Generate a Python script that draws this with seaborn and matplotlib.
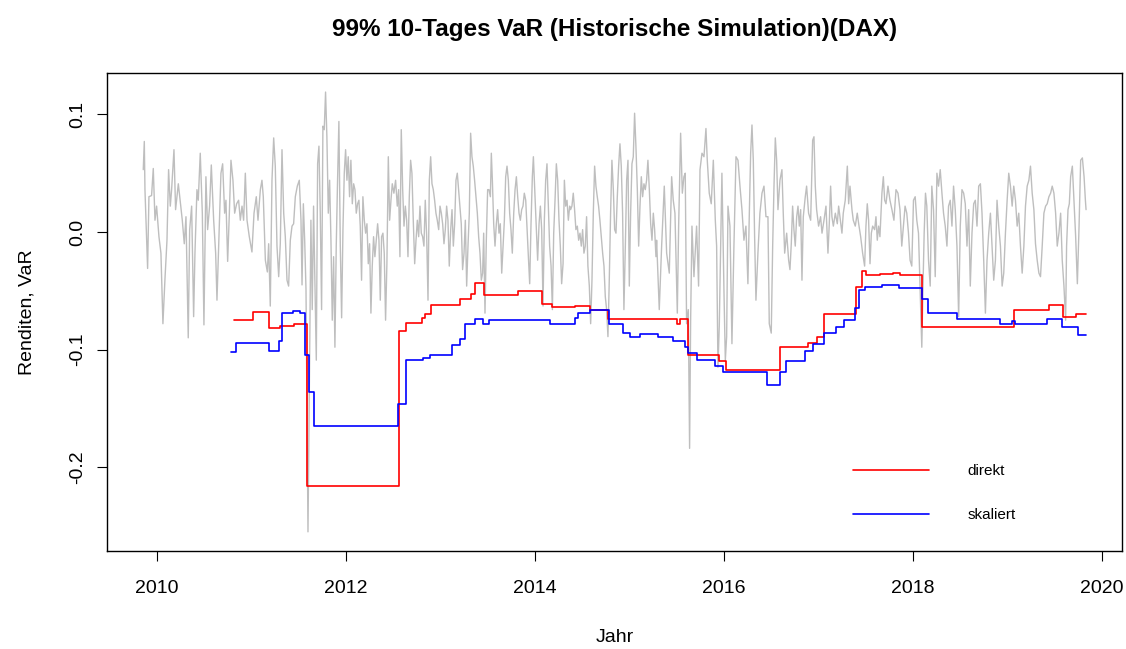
import numpy as np
import pandas as pd
import matplotlib
matplotlib.use("Agg")
import matplotlib.pyplot as plt
import seaborn as sns

# 10-Tages-Renditen (DAX)
ret_years = [
    2009.855, 2009.866, 2009.873, 2009.901, 2009.915, 2009.943, 2009.961, 2009.979, 2009.996, 2010.021,
    2010.042, 2010.063, 2010.084, 2010.106, 2010.123, 2010.141, 2010.155, 2010.180, 2010.197, 2010.226,
    2010.268, 2010.289, 2010.307, 2010.331, 2010.346, 2010.367, 2010.388, 2010.402, 2010.423, 2010.437,
    2010.458, 2010.480, 2010.497, 2010.518, 2010.536, 2010.557, 2010.575, 2010.600, 2010.621, 2010.635,
    2010.656, 2010.677, 2010.695, 2010.716, 2010.730, 2010.748, 2010.766, 2010.783, 2010.804, 2010.822,
    2010.843, 2010.864, 2010.882, 2010.900, 2010.917, 2010.935, 2010.953, 2010.977, 2011.005, 2011.027,
    2011.051, 2011.069, 2011.094, 2011.111, 2011.125, 2011.147, 2011.168, 2011.182, 2011.199, 2011.217,
    2011.235, 2011.252, 2011.270, 2011.288, 2011.305, 2011.323, 2011.341, 2011.358, 2011.376, 2011.393,
    2011.411, 2011.429, 2011.446, 2011.464, 2011.485, 2011.506, 2011.524, 2011.535, 2011.549, 2011.563,
    2011.577, 2011.591, 2011.598, 2011.619, 2011.629, 2011.643, 2011.657, 2011.671, 2011.686, 2011.700,
    2011.714, 2011.728, 2011.742, 2011.756, 2011.770, 2011.784, 2011.798, 2011.813, 2011.827, 2011.841,
    2011.855, 2011.869, 2011.883, 2011.897, 2011.911, 2011.925, 2011.940, 2011.954, 2011.968, 2011.982,
    2011.996, 2012.010, 2012.024, 2012.038, 2012.052, 2012.067, 2012.081, 2012.095, 2012.109, 2012.123,
    2012.137, 2012.151, 2012.165, 2012.179, 2012.194, 2012.208, 2012.222, 2012.236, 2012.250, 2012.264,
    2012.278, 2012.292, 2012.306, 2012.321, 2012.335, 2012.349, 2012.363, 2012.377, 2012.391, 2012.405,
    2012.419, 2012.433, 2012.448, 2012.462, 2012.476, 2012.490, 2012.507, 2012.525, 2012.543, 2012.557,
    2012.571, 2012.585, 2012.600, 2012.614, 2012.628, 2012.642, 2012.656, 2012.670, 2012.684, 2012.698,
    2012.712, 2012.727, 2012.741, 2012.755, 2012.769, 2012.783, 2012.797, 2012.811, 2012.825, 2012.839,
    2012.854, 2012.868, 2012.882, 2012.896, 2012.910, 2012.924, 2012.938, 2012.952, 2012.966, 2012.981,
    2012.995, 2013.009, 2013.023, 2013.037, 2013.051, 2013.065, 2013.079, 2013.093, 2013.108, 2013.122,
    2013.136, 2013.150, 2013.164, 2013.178, 2013.192, 2013.206, 2013.220, 2013.234, 2013.249, 2013.263,
    2013.277, 2013.291, 2013.305, 2013.319, 2013.333, 2013.347, 2013.361, 2013.376, 2013.390, 2013.404,
    2013.418, 2013.432, 2013.446, 2013.457, 2013.471, 2013.485, 2013.499, 2013.513, 2013.528, 2013.538,
    2013.549, 2013.563, 2013.577, 2013.591, 2013.605, 2013.619, 2013.633, 2013.648, 2013.662, 2013.676,
    2013.690, 2013.704, 2013.718, 2013.732, 2013.746, 2013.760, 2013.775, 2013.789, 2013.803, 2013.817,
    2013.831, 2013.845, 2013.859, 2013.873, 2013.887, 2013.902, 2013.916, 2013.930, 2013.944, 2013.958,
    2013.972, 2013.983, 2013.997, 2014.014, 2014.028, 2014.043, 2014.057, 2014.071, 2014.085, 2014.099,
    2014.113, 2014.127, 2014.141, 2014.155, 2014.170, 2014.184, 2014.198, 2014.212, 2014.226, 2014.240,
    2014.254, 2014.268, 2014.282, 2014.297, 2014.311, 2014.325, 2014.339, 2014.353, 2014.367, 2014.377,
    2014.391, 2014.405, 2014.419, 2014.433, 2014.448, 2014.462, 2014.476, 2014.490, 2014.504, 2014.518,
    2014.532, 2014.546, 2014.560, 2014.575, 2014.589, 2014.603, 2014.617, 2014.631, 2014.645, 2014.659,
    2014.673, 2014.687, 2014.702, 2014.716, 2014.730, 2014.744, 2014.758, 2014.772, 2014.786, 2014.800,
    2014.814, 2014.829, 2014.843, 2014.857, 2014.871, 2014.885, 2014.899, 2014.913, 2014.927, 2014.941,
    2014.956, 2014.970, 2014.984, 2014.998, 2015.012, 2015.026, 2015.040, 2015.054, 2015.068, 2015.083,
    2015.097, 2015.111, 2015.125, 2015.139, 2015.153, 2015.167, 2015.181, 2015.195, 2015.210, 2015.224,
    2015.238, 2015.252, 2015.266, 2015.280, 2015.287, 2015.315, 2015.340, 2015.368, 2015.393, 2015.421,
    2015.446, 2015.463, 2015.481, 2015.506, 2015.520, 2015.541, 2015.559, 2015.576, 2015.590, 2015.604,
    2015.622, 2015.636, 2015.647, 2015.661, 2015.682, 2015.710, 2015.731, 2015.746, 2015.767, 2015.788,
    2015.809, 2015.823, 2015.844, 2015.865, 2015.887, 2015.908, 2015.922, 2015.936, 2015.950, 2015.964,
    2015.978, 2016.000, 2016.014, 2016.028, 2016.042, 2016.063, 2016.084, 2016.105, 2016.127, 2016.148,
    2016.169, 2016.190, 2016.211, 2016.232, 2016.253, 2016.268, 2016.282, 2016.296, 2016.310, 2016.324,
    2016.338, 2016.359, 2016.380, 2016.402, 2016.423, 2016.444, 2016.465, 2016.479, 2016.500, 2016.515,
    2016.529, 2016.543, 2016.557, 2016.571, 2016.592, 2016.613, 2016.627, 2016.642, 2016.663, 2016.684,
    2016.698, 2016.712, 2016.726, 2016.740, 2016.754, 2016.769, 2016.783, 2016.797, 2016.811, 2016.825,
    2016.839, 2016.860, 2016.874, 2016.895, 2016.917, 2016.938, 2016.952, 2016.966, 2016.980, 2017.001,
    2017.022, 2017.037, 2017.058, 2017.079, 2017.100, 2017.114, 2017.128, 2017.142, 2017.157, 2017.178,
    2017.199, 2017.213, 2017.227, 2017.248, 2017.262, 2017.283, 2017.305, 2017.319, 2017.333, 2017.354,
    2017.368, 2017.389, 2017.410, 2017.425, 2017.446, 2017.467, 2017.488, 2017.502, 2017.516, 2017.530,
    2017.545, 2017.559, 2017.573, 2017.594, 2017.608, 2017.622, 2017.636, 2017.650, 2017.671, 2017.686,
    2017.700, 2017.714, 2017.735, 2017.756, 2017.777, 2017.798, 2017.820, 2017.841, 2017.862, 2017.881,
    2017.899, 2017.916, 2017.934, 2017.952, 2017.969, 2017.987, 2018.005, 2018.023, 2018.040, 2018.058,
    2018.076, 2018.093, 2018.104, 2018.118, 2018.132, 2018.146, 2018.164, 2018.182, 2018.199, 2018.217,
    2018.235, 2018.253, 2018.270, 2018.288, 2018.306, 2018.323, 2018.341, 2018.359, 2018.376, 2018.394,
    2018.412, 2018.429, 2018.447, 2018.465, 2018.483, 2018.500, 2018.518, 2018.536, 2018.553, 2018.571,
    2018.589, 2018.606, 2018.624, 2018.642, 2018.659, 2018.677, 2018.695, 2018.713, 2018.730, 2018.748,
    2018.766, 2018.783, 2018.801, 2018.819, 2018.836, 2018.854, 2018.872, 2018.889, 2018.907, 2018.925,
    2018.943, 2018.960, 2018.978, 2018.996, 2019.013, 2019.031, 2019.049, 2019.066, 2019.084, 2019.102,
    2019.119, 2019.137, 2019.155, 2019.173, 2019.190, 2019.208, 2019.226, 2019.243, 2019.261, 2019.279,
    2019.296, 2019.314, 2019.332, 2019.349, 2019.367, 2019.385, 2019.403, 2019.420, 2019.438, 2019.456,
    2019.473, 2019.491, 2019.509, 2019.526, 2019.544, 2019.562, 2019.579, 2019.597, 2019.615, 2019.625,
    2019.640, 2019.654, 2019.668, 2019.686, 2019.703, 2019.721, 2019.739, 2019.757, 2019.774, 2019.792,
    2019.810, 2019.824, 2019.831,
]
ret_values = [
    0.053, 0.077, 0.036, -0.031, 0.030, 0.031, 0.054, 0.010, 0.022, -0.004,
    -0.018, -0.078, -0.041, -0.007, 0.053, 0.022, 0.036, 0.070, 0.019, 0.041,
    0.010, -0.010, 0.013, -0.090, 0.002, 0.022, -0.072, -0.018, 0.036, 0.027,
    0.067, 0.016, -0.079, 0.047, 0.002, 0.022, 0.057, 0.010, -0.018, -0.058,
    -0.004, 0.050, 0.058, 0.016, 0.027, -0.025, 0.016, 0.061, 0.044, 0.016,
    0.024, 0.027, 0.010, 0.022, 0.010, 0.050, 0.010, -0.004, -0.017, 0.016,
    0.030, 0.010, 0.036, 0.044, 0.030, -0.024, -0.034, -0.010, -0.063, 0.044,
    0.080, 0.056, -0.012, -0.038, -0.010, 0.070, 0.016, -0.004, -0.041, -0.046,
    -0.007, 0.005, 0.007, 0.030, 0.039, 0.044, 0.010, -0.045, 0.024, -0.007,
    -0.049, -0.183, -0.255, -0.069, 0.010, -0.066, 0.022, -0.041, -0.109, 0.058,
    0.073, 0.016, -0.066, 0.090, 0.087, 0.119, 0.081, 0.016, 0.044, -0.007,
    -0.075, -0.021, -0.098, -0.012, 0.044, 0.094, -0.012, -0.073, 0.002, 0.050,
    0.070, 0.044, 0.064, 0.030, 0.061, 0.024, 0.041, 0.036, 0.016, 0.024,
    0.027, 0.005, -0.041, 0.030, 0.010, -0.001, 0.007, -0.027, -0.010, -0.069,
    -0.029, -0.004, -0.021, -0.007, 0.007, -0.007, -0.058, -0.004, -0.001, -0.018,
    -0.075, -0.027, 0.064, 0.010, 0.027, 0.041, 0.033, 0.044, 0.022, 0.036,
    -0.021, 0.087, 0.036, 0.005, 0.022, 0.010, -0.021, 0.030, 0.061, 0.050,
    0.010, -0.027, -0.007, 0.010, -0.004, 0.022, -0.001, -0.004, -0.012, 0.027,
    -0.004, -0.058, 0.044, 0.064, 0.041, 0.036, 0.027, 0.016, 0.010, 0.002,
    0.022, 0.016, 0.007, -0.010, 0.002, 0.022, 0.010, -0.029, 0.002, 0.019,
    -0.012, 0.007, 0.044, 0.050, 0.036, 0.022, 0.007, -0.032, -0.018, 0.010,
    -0.046, -0.012, 0.016, 0.084, 0.064, 0.056, 0.044, 0.030, 0.016, -0.004,
    -0.018, -0.041, -0.035, -0.001, -0.069, -0.007, 0.036, 0.036, 0.030, 0.067,
    0.044, 0.007, -0.012, 0.007, 0.019, -0.001, 0.007, -0.035, -0.012, 0.010,
    0.047, 0.056, 0.044, 0.016, 0.002, -0.018, 0.016, 0.036, 0.047, 0.030,
    0.016, 0.010, 0.019, 0.022, 0.033, 0.027, 0.002, -0.021, -0.044, 0.007,
    0.047, 0.064, 0.036, 0.002, -0.024, 0.007, 0.022, 0.002, -0.063, 0.010,
    0.044, 0.058, 0.022, -0.012, -0.029, -0.066, -0.001, 0.027, 0.058, 0.044,
    0.010, -0.012, -0.044, -0.027, 0.044, 0.022, 0.027, 0.010, 0.022, 0.019,
    0.022, 0.033, 0.019, 0.002, 0.005, -0.007, -0.001, -0.012, 0.002, -0.018,
    -0.012, 0.013, -0.029, -0.046, -0.078, -0.041, 0.016, 0.056, 0.039, 0.030,
    0.022, 0.010, -0.004, -0.018, -0.029, -0.055, -0.066, -0.089, -0.041, 0.016,
    0.061, 0.036, 0.002, -0.001, 0.030, 0.056, 0.075, 0.056, 0.016, -0.066,
    -0.012, 0.044, 0.061, -0.046, 0.016, 0.058, 0.064, 0.101, 0.073, 0.036,
    -0.012, 0.022, 0.047, 0.030, 0.041, 0.036, 0.044, 0.061, 0.036, 0.007,
    -0.007, 0.016, 0.002, -0.021, -0.007, -0.066, -0.012, 0.039, -0.018, -0.035,
    0.047, 0.027, 0.016, -0.069, 0.005, 0.084, 0.033, 0.047, 0.050, -0.078,
    -0.066, -0.184, -0.075, 0.005, -0.038, 0.005, -0.046, 0.053, 0.067, 0.064,
    0.088, 0.061, 0.033, 0.024, 0.061, 0.010, -0.012, -0.115, -0.080, -0.015,
    0.050, -0.052, -0.109, -0.089, 0.022, 0.005, -0.095, -0.012, 0.064, 0.061,
    0.039, 0.019, -0.007, 0.005, -0.044, 0.016, 0.067, 0.091, 0.061, -0.004,
    -0.058, -0.018, 0.016, 0.033, 0.039, 0.013, 0.013, -0.078, -0.086, -0.012,
    0.039, 0.080, 0.061, 0.019, 0.044, 0.053, 0.016, -0.018, -0.001, -0.024,
    -0.032, -0.010, 0.022, 0.002, -0.012, 0.013, 0.022, 0.005, 0.019, -0.041,
    0.013, 0.030, 0.039, 0.016, 0.010, 0.078, 0.081, 0.039, 0.019, 0.005,
    0.013, -0.001, 0.010, 0.022, -0.018, 0.007, 0.039, 0.013, 0.005, 0.016,
    0.007, 0.022, 0.013, -0.001, 0.016, 0.027, 0.056, 0.024, 0.039, 0.019,
    0.010, 0.005, 0.016, 0.007, -0.004, -0.018, -0.029, 0.005, 0.024, 0.010,
    -0.027, -0.001, 0.005, 0.002, 0.013, -0.007, 0.005, -0.004, 0.033, 0.047,
    0.027, 0.024, 0.039, 0.027, 0.019, 0.010, 0.036, 0.033, 0.019, -0.012,
    0.005, 0.022, 0.016, -0.001, -0.024, -0.029, 0.027, 0.030, 0.010, -0.001,
    -0.052, -0.098, -0.052, -0.001, 0.033, 0.022, -0.024, -0.046, 0.039, 0.019,
    -0.038, 0.050, 0.039, 0.053, 0.033, 0.016, 0.005, -0.012, 0.022, 0.027,
    0.005, 0.039, 0.019, -0.012, -0.072, 0.005, 0.036, 0.033, 0.024, -0.012,
    0.019, -0.046, -0.001, 0.024, 0.027, 0.005, 0.039, 0.041, 0.016, -0.024,
    -0.069, -0.024, -0.001, 0.016, -0.012, -0.041, -0.024, 0.027, 0.005, -0.012,
    -0.046, -0.035, -0.001, 0.027, 0.050, 0.039, 0.022, 0.039, 0.027, 0.005,
    0.016, -0.012, -0.035, -0.012, 0.022, 0.039, 0.044, 0.056, 0.033, 0.019,
    -0.010, -0.024, -0.035, -0.038, -0.012, 0.016, 0.022, 0.024, 0.030, 0.033,
    0.039, 0.033, 0.016, -0.012, -0.001, 0.016, -0.024, -0.046, -0.075, -0.012,
    0.019, 0.024, 0.047, 0.056, 0.027, -0.004, -0.044, 0.005, 0.061, 0.063,
    0.047, 0.027, 0.019,
]

# 99% 10-Tages VaR, direkt (Stufenwerte ab Jahr)
direkt_years = [2010.81, 2011.02, 2011.19, 2011.30, 2011.45, 2011.59, 2012.56, 2012.64, 2012.80, 2012.84,
                2012.90, 2013.21, 2013.32, 2013.37, 2013.46, 2013.82, 2014.07, 2014.18, 2014.42, 2014.58,
                2014.77, 2015.50, 2015.53, 2015.62, 2015.95, 2016.02, 2016.59, 2016.89, 2016.98, 2017.06,
                2017.40, 2017.46, 2017.50, 2017.65, 2017.79, 2017.86, 2018.09, 2019.07, 2019.44, 2019.59,
                2019.72, 2019.83]
direkt_var = [-0.075, -0.068, -0.082, -0.080, -0.078, -0.216, -0.084, -0.077, -0.073, -0.070,
              -0.062, -0.057, -0.053, -0.043, -0.054, -0.050, -0.061, -0.064, -0.063, -0.066,
              -0.074, -0.078, -0.074, -0.105, -0.110, -0.117, -0.098, -0.094, -0.089, -0.070,
              -0.047, -0.033, -0.037, -0.036, -0.035, -0.037, -0.081, -0.066, -0.062, -0.072,
              -0.070, -0.070]

# 99% 10-Tages VaR, skaliert
skaliert_years = [2010.78, 2010.84, 2011.19, 2011.29, 2011.32, 2011.44, 2011.51, 2011.57, 2011.61, 2011.66,
                  2012.55, 2012.63, 2012.82, 2012.89, 2013.12, 2013.21, 2013.26, 2013.37, 2013.45, 2013.51,
                  2014.16, 2014.42, 2014.46, 2014.58, 2014.78, 2014.93, 2015.01, 2015.11, 2015.30, 2015.46,
                  2015.59, 2015.62, 2015.71, 2015.90, 2015.99, 2016.45, 2016.59, 2016.66, 2016.86, 2016.94,
                  2017.06, 2017.19, 2017.27, 2017.39, 2017.43, 2017.49, 2017.67, 2017.79, 2017.85, 2018.09,
                  2018.16, 2018.47, 2018.92, 2019.05, 2019.08, 2019.42, 2019.58, 2019.75, 2019.83]
skaliert_var = [-0.102, -0.094, -0.101, -0.093, -0.069, -0.067, -0.069, -0.105, -0.136, -0.165,
                -0.146, -0.109, -0.107, -0.105, -0.096, -0.091, -0.078, -0.074, -0.078, -0.075,
                -0.078, -0.073, -0.069, -0.066, -0.078, -0.086, -0.089, -0.087, -0.089, -0.093,
                -0.098, -0.103, -0.109, -0.114, -0.119, -0.130, -0.119, -0.110, -0.101, -0.095,
                -0.086, -0.081, -0.075, -0.065, -0.049, -0.047, -0.045, -0.045, -0.048, -0.057,
                -0.069, -0.074, -0.078, -0.076, -0.078, -0.074, -0.081, -0.088, -0.088]

sns.set_style("white")
plt.rcParams['font.family'] = ['Liberation Sans', 'DejaVu Sans']
plt.rcParams['axes.unicode_minus'] = False
plt.rcParams['text.color'] = 'black'
plt.rcParams['axes.labelcolor'] = 'black'
plt.rcParams['xtick.color'] = 'black'
plt.rcParams['ytick.color'] = 'black'

fig = plt.figure(figsize=(11.26, 6.49), dpi=100)
ax = fig.add_axes([0.095, 0.151, 0.9015, 0.7365])

sns.lineplot(x=ret_years, y=ret_values, color='#BEBEBE', linewidth=1.0, ax=ax, sort=False)
sns.lineplot(x=direkt_years, y=direkt_var, color='#FF0000', linewidth=1.2, ax=ax,
             drawstyle='steps-post', label='direkt')
sns.lineplot(x=skaliert_years, y=skaliert_var, color='#0000FF', linewidth=1.2, ax=ax,
             drawstyle='steps-post', label='skaliert')

ax.set_xlim(2009.471, 2020.212)
ax.set_ylim(-0.2713, 0.1352)
ax.set_xticks([2010, 2012, 2014, 2016, 2018, 2020])
ax.set_xticklabels(['2010', '2012', '2014', '2016', '2018', '2020'])
ax.set_yticks([-0.2, -0.1, 0.0, 0.1])
ax.set_yticklabels(['-0.2', '-0.1', '0.0', '0.1'], rotation=90, va='center')

for s in ax.spines.values():
    s.set_color('black')
    s.set_linewidth(1.0)
ax.tick_params(axis='both', direction='out', length=7, width=0.8,
               labelsize=14, bottom=True, left=True)
ax.tick_params(axis='x', pad=14)
ax.tick_params(axis='y', pad=8)

ax.set_xlabel('Jahr', fontsize=14, labelpad=23)
ax.set_ylabel('Renditen, VaR', fontsize=14, labelpad=24)
fig.suptitle('99% 10-Tages VaR (Historische Simulation)(DAX)', x=0.5457, y=0.972,
             fontsize=17.5, fontweight='bold')

ax.legend(loc='lower left', bbox_to_anchor=(0.721, 0.032), frameon=False, fontsize=11,
          handlelength=5.0, handletextpad=2.5, labelspacing=1.95)

fig.savefig('out.png', dpi=100)
